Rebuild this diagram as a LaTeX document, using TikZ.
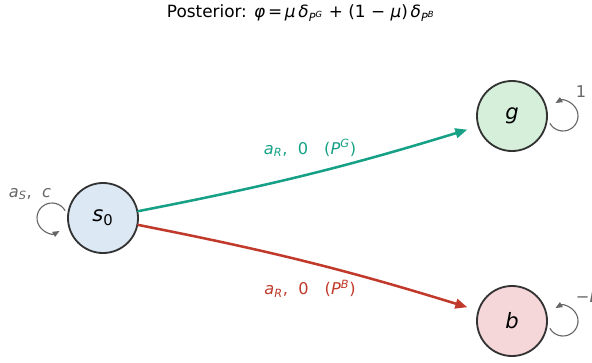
\documentclass[tikz,border=0pt]{standalone}
\usepackage{fontspec}
\setmainfont{DejaVu Sans}
\usetikzlibrary{arrows.meta,calc}

\definecolor{goodc}{HTML}{16A085}
\definecolor{badc}{HTML}{C0392B}
\definecolor{loopc}{HTML}{666666}
\definecolor{rimc}{HTML}{333333}
\definecolor{sfill}{HTML}{DCE9F5}
\definecolor{gfill}{HTML}{D6EFDA}
\definecolor{bfill}{HTML}{F5D6D9}
\newcommand{\mi}[1]{\textit{#1}}

\begin{document}
\begin{tikzpicture}[x=0.025cm, y=0.025cm, line join=round, line cap=round,
	state/.style={circle, draw=rimc, line width=1.3pt, minimum size=1.75cm, inner sep=0pt, font=\fontsize{15}{18}\selectfont},
	flow/.style={line width=1.8pt, -{Triangle[length=0.3cm, width=0.24cm]}, shorten >=0.27cm},
	loopline/.style={draw=loopc, line width=0.8pt, -{Triangle[length=0.17cm, width=0.14cm]}},
	lbl/.style={font=\fontsize{11.5}{14}\selectfont}]
	\useasboundingbox (0,0) rectangle (592,-362);
	
	% TIÊU ĐỀ
	\node (title) at (301,-13) {\fontsize{12}{14}\selectfont Posterior: \mi{φ}\,=\,\mi{μ}\,\mi{δ}\textsubscript{\mi{P}\textsuperscript{\mi{G}}} + (1 − \mi{μ})\,\mi{δ}\textsubscript{\mi{P}\textsuperscript{\mi{B}}}};
	
	% TRẠNG THÁI
	\node[state, fill=sfill] (s0) at (103,-218) {\mi{s}\textsubscript{0}};
	\node[state, fill=gfill] (g) at (512,-116) {\mi{g}};
	\node[state, fill=bfill] (b) at (512,-321) {\mi{b}};
	
	% CHUYỂN TRẠNG THÁI a_R
	\draw[flow, goodc] (s0) to[bend right=3] (g);
	\draw[flow, badc] (s0) to[bend left=3] (b);
	\node[lbl, text=goodc] (goodlbl) at (310,-148) {\mi{a}\textsubscript{\mi{R}}, \ 0\quad(\mi{P}\textsuperscript{\mi{G}})};
	\node[lbl, text=badc] (badlbl) at (310,-289) {\mi{a}\textsubscript{\mi{R}}, \ 0\quad(\mi{P}\textsuperscript{\mi{B}})};
	
	% VÒNG LẶP
	\draw[loopline] ($(s0)+(-51,0)+(30:15)$) arc[start angle=30, end angle=300, radius=15];
	\draw[loopline] ($(g)+(51,0)+(-150:15)$) arc[start angle=-150, end angle=120, radius=15];
	\draw[loopline] ($(b)+(51,0)+(-150:15)$) arc[start angle=-150, end angle=120, radius=15];
	\node[lbl, text=loopc] (s0lbl) at (30,-194) {\mi{a}\textsubscript{\mi{S}}, \ \mi{c}};
	\node[lbl, text=loopc] (glbl) at (581,-92) {1};
	\node[lbl, text=loopc, anchor=west] (blbl) at (571,-297) {−\mi{L}};
\end{tikzpicture}
\end{document}
